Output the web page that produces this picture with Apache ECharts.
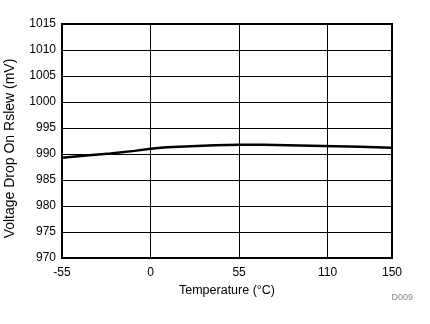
<!DOCTYPE html>
<html>
<head>
<meta charset="utf-8">
<script src="https://cdn.jsdelivr.net/npm/echarts@6/dist/echarts.min.js"></script>
<style>
  html, body { margin: 0; padding: 0; background: #fff; }
  #chart { width: 430px; height: 324px; }
</style>
</head>
<body>
<div id="chart"></div>
<script>
// Temperature sweep (°C) and measured drop across Rslew (mV)
const temperatures = [-55, -40, -25, -10, 0, 10, 25, 40, 55, 70, 85, 100, 115, 130, 150];
const voltageDrop = [989.3, 989.7, 990.1, 990.6, 991.0, 991.3, 991.5, 991.7, 991.8, 991.8, 991.7, 991.6, 991.5, 991.4, 991.2];
const xTicks = [-55, 0, 55, 110, 150];

const font = '"Liberation Sans", Arial, sans-serif';
const chart = echarts.init(document.getElementById('chart'), null, { renderer: 'canvas' });

chart.setOption({
  animation: false,
  backgroundColor: '#fff',
  grid: { left: 62, right: 38, top: 24, bottom: 66, show: false, containLabel: false, outerBoundsMode: 'none' },
  xAxis: {
    type: 'value',
    min: -55,
    max: 150,
    name: 'Temperature (°C)',
    nameLocation: 'middle',
    nameGap: 26,
    nameTextStyle: { color: '#000', fontFamily: font, fontSize: 12.5 },
    axisLine: { show: false },
    axisTick: { show: false },
    axisLabel: {
      color: '#000', fontFamily: font, fontSize: 12, margin: 9,
      customValues: xTicks,
      formatter: v => String(v)
    },
    splitLine: { show: false }
  },
  yAxis: {
    type: 'value',
    min: 970,
    max: 1015,
    interval: 5,
    name: 'Voltage Drop On Rslew (mV)',
    nameLocation: 'middle',
    nameGap: 45,
    nameTextStyle: { color: '#000', fontFamily: font, fontSize: 14, padding: [0, 15, 0, 0] },
    axisLine: { show: false },
    axisTick: { show: false },
    axisLabel: { color: '#000', fontFamily: font, fontSize: 12, margin: 6, formatter: v => String(v) },
    splitLine: { show: true, lineStyle: { color: '#000', width: 1 } }
  },
  graphic: [
    {
      type: 'text',
      right: 17,
      bottom: 22,
      style: { text: 'D009', fill: '#8a8a8a', font: '9px ' + font }
    }
  ],
  series: [
    {
      // Vertical grid lines at the labelled temperatures
      type: 'line',
      silent: true,
      data: [],
      markLine: {
        silent: true,
        symbol: 'none',
        label: { show: false },
        lineStyle: { color: '#000', width: 1, type: 'solid' },
        data: xTicks.slice(1, -1).map(v => ({ xAxis: v }))
      }
    },
    {
      type: 'line',
      data: temperatures.map((t, i) => [t, voltageDrop[i]]),
      showSymbol: false,
      smooth: false,
      lineStyle: { color: '#000', width: 2.5 },
      z: 5
    },
    {
      // Plot frame
      type: 'line',
      silent: true,
      data: [],
      markArea: {
        silent: true,
        itemStyle: { color: 'transparent', borderColor: '#000', borderWidth: 2 },
        data: [[{ coord: [-55, 970] }, { coord: [150, 1015] }]]
      },
      z: 6
    }
  ]
});
</script>
</body>
</html>
